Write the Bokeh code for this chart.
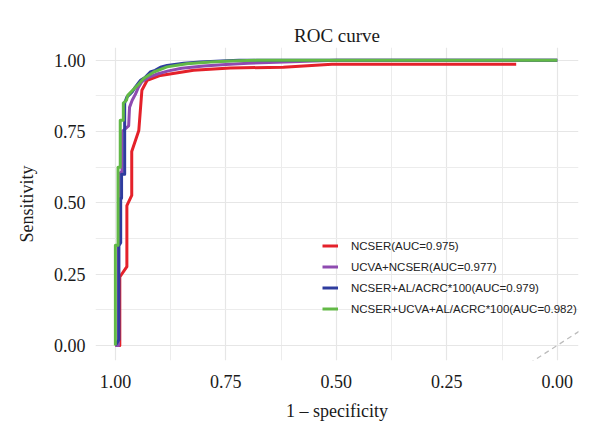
from bokeh.plotting import figure
from bokeh.models import Range1d, FixedTicker, Legend, LegendItem
from bokeh.embed import file_html
from bokeh.resources import INLINE

# ROC curves: x = specificity (axis runs 1 -> 0), y = sensitivity
ncser_spec = [1.0, 0.99, 0.99, 0.974, 0.974, 0.963, 0.963, 0.947, 0.94, 0.928,
              0.898, 0.823, 0.74, 0.62, 0.51, 0.093]
ncser_sens = [0.0, 0.0, 0.24, 0.276, 0.49, 0.526, 0.68, 0.754, 0.895, 0.93,
              0.947, 0.965, 0.973, 0.976, 0.986, 0.986]

ucva_spec = [1.0, 0.993, 0.993, 0.985, 0.985, 0.97, 0.968, 0.962, 0.955, 0.948,
             0.94, 0.925, 0.905, 0.88, 0.85, 0.80, 0.75, 0.70, 0.60, 0.50, 0.0]
ucva_sens = [0.0, 0.0, 0.60, 0.61, 0.75, 0.77, 0.835, 0.86, 0.88, 0.905,
             0.925, 0.94, 0.952, 0.963, 0.972, 0.98, 0.985, 0.99, 0.995, 1.0, 1.0]

al_spec = [1.0, 0.992, 0.992, 0.988, 0.988, 0.986, 0.986, 0.979, 0.979, 0.974,
           0.962, 0.955, 0.943, 0.932, 0.921, 0.91, 0.898, 0.883, 0.845, 0.808,
           0.76, 0.72, 0.0]
al_sens = [0.0, 0.02, 0.35, 0.36, 0.516, 0.516, 0.60, 0.60, 0.85, 0.871,
           0.889, 0.906, 0.93, 0.941, 0.959, 0.965, 0.976, 0.982, 0.99, 0.994,
           0.998, 1.0, 1.0]

full_spec = [1.0, 1.0, 0.994, 0.994, 0.989, 0.989, 0.982, 0.982, 0.975, 0.972,
             0.961, 0.95, 0.936, 0.913, 0.883, 0.838, 0.785, 0.74, 0.68, 0.0]
full_sens = [0.0, 0.351, 0.351, 0.625, 0.625, 0.79, 0.79, 0.85, 0.86, 0.877,
             0.895, 0.912, 0.936, 0.959, 0.977, 0.988, 0.994, 0.998, 1.0, 1.0]

series_labels = ["NCSER(AUC=0.975)", "UCVA+NCSER(AUC=0.977)",
                 "NCSER+AL/ACRC*100(AUC=0.979)", "NCSER+UCVA+AL/ACRC*100(AUC=0.982)"]
series_colors = ["#E4212A", "#8E4BB0", "#2E3C9E", "#62B946"]

# reference diagonal
diag_x = [0.2, -0.2]
diag_y = [-0.2, 0.2]

tick_values = [0.0, 0.25, 0.5, 0.75, 1.0]
minor_values = [0.125, 0.375, 0.625, 0.875]
tick_labels = ["0.00", "0.25", "0.50", "0.75", "1.00"]

p = figure(width=600, height=436, output_backend="svg", toolbar_location=None,
           x_range=Range1d(1.045, -0.048), y_range=Range1d(-0.053, 1.045),
           min_border_left=95, min_border_right=22, min_border_top=47,
           min_border_bottom=76, title="ROC curve")

p.outline_line_color = None
p.background_fill_color = "white"
p.border_fill_color = "white"

serif = "Liberation Serif"
p.title.text_font = serif
p.title.text_font_size = "19px"
p.title.text_font_style = "normal"
p.title.text_color = "#1a1a1a"
p.title.align = "center"
p.title.standoff = 4

for ax in (p.xaxis[0], p.yaxis[0]):
    ax.ticker = FixedTicker(ticks=tick_values, minor_ticks=minor_values)
    ax.major_label_overrides = dict(zip(tick_values, tick_labels))
    ax.axis_line_color = None
    ax.major_tick_line_color = None
    ax.minor_tick_line_color = None
    ax.major_tick_out = 0
    ax.major_tick_in = 0
    ax.minor_tick_out = 0
    ax.major_label_text_font = serif
    ax.major_label_text_font_size = "18px"
    ax.major_label_text_color = "#1a1a1a"
    ax.axis_label_text_font = serif
    ax.axis_label_text_font_size = "18px"
    ax.axis_label_text_font_style = "normal"
    ax.axis_label_text_color = "#1a1a1a"

p.xaxis.axis_label = "1 \u2013 specificity"
p.yaxis.axis_label = "Sensitivity"
p.xaxis.major_label_standoff = 14
p.xaxis.axis_label_standoff = 10
p.yaxis.major_label_standoff = 10
p.yaxis.axis_label_standoff = 14

for g in (p.xgrid[0], p.ygrid[0]):
    g.ticker = FixedTicker(ticks=tick_values, minor_ticks=minor_values)
    g.grid_line_color = "#E6E6E6"
    g.grid_line_width = 1.2
    g.minor_grid_line_color = "#ECECEC"
    g.minor_grid_line_width = 1.0

p.line(diag_x, diag_y, line_color="#BDBDBD", line_width=1.3, line_dash="5 4")

curves = [(ncser_spec, ncser_sens), (ucva_spec, ucva_sens),
          (al_spec, al_sens), (full_spec, full_sens)]
items = []
for (xs, ys), lab, col in zip(curves, series_labels, series_colors):
    r = p.line(xs, ys, line_color=col, line_width=3, line_join="round")
    items.append(LegendItem(label=lab, renderers=[r]))

legend = Legend(items=items, location=(227, 41))
legend.background_fill_alpha = 0
legend.border_line_color = None
legend.padding = 0
legend.margin = 0
legend.spacing = 0
legend.glyph_width = 16
legend.glyph_height = 21
legend.label_height = 21
legend.label_standoff = 13
legend.label_text_font = "Liberation Sans"
legend.label_text_font_size = "11.5px"
legend.label_text_color = "#222222"
p.add_layout(legend)

open("out.html", "w").write(file_html(p, INLINE))
